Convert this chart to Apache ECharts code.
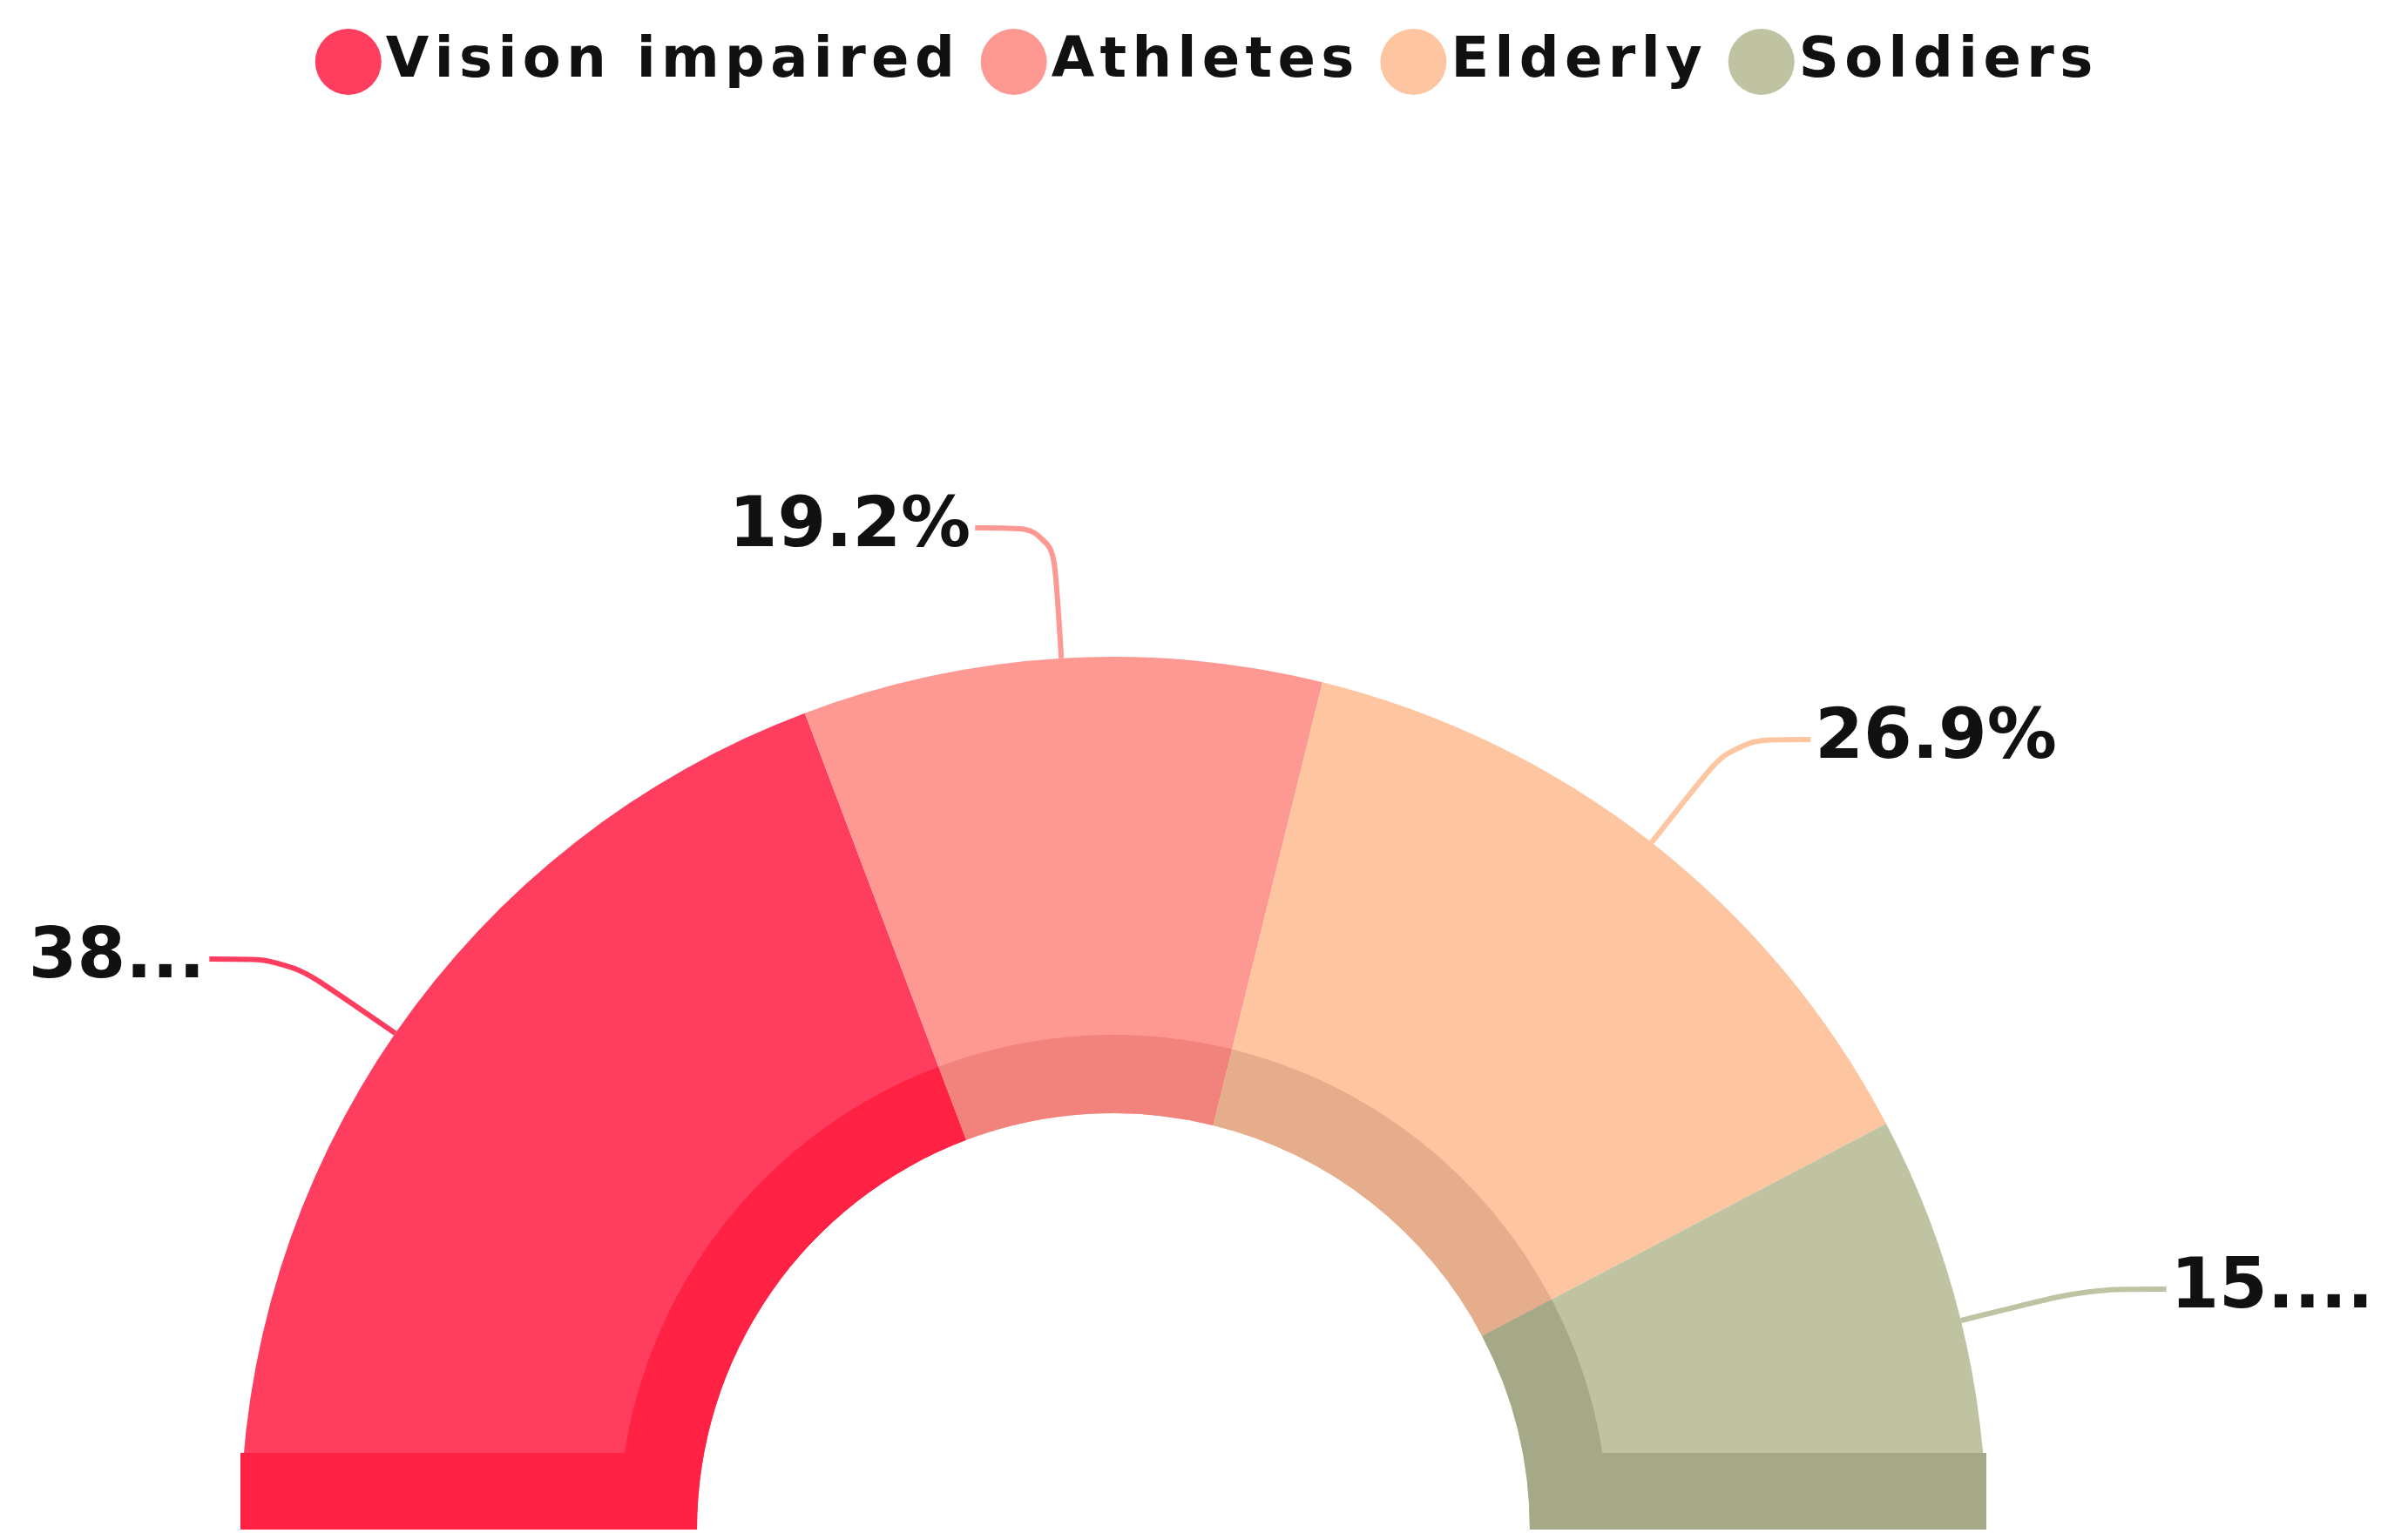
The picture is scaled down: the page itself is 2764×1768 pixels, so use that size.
<!DOCTYPE html>
<html><head><meta charset="utf-8">
<script src="https://cdn.jsdelivr.net/npm/echarts@6/dist/echarts.min.js"></script>
<style>html,body{margin:0;background:#fff}#c{width:2764px;height:1768px}</style>
</head><body><div id="c"></div>
<script>
const categories = ['Vision impaired', 'Athletes', 'Elderly', 'Soldiers'];
const values = [38.5, 19.2, 26.9, 15.4];
const colors = ['#ff3d5f', '#fd9892', '#fdc5a0', '#bfc3a2'];
const innerColors = ['#ff2244', '#f2837c', '#e6ad8c', '#a5a987'];

const cx = 1278, cy = 1756, rOut = 1002, rIn = 478, rMid = 568;
const chart = echarts.init(document.getElementById('c'));
chart.setOption({
  animation: false,
  color: colors,
  legend: {
    top: 28, left: 'center', icon: 'circle', itemWidth: 76, itemHeight: 76, itemGap: 30,
    textStyle: { fontFamily: 'DejaVu Sans', fontWeight: 'bold', fontSize: 64, color: '#111',
      rich: {} },
    formatter: n => n.split('').join('\u200A'),
    data: categories
  },
  series: [{
    type: 'pie', center: [cx, cy], radius: [rIn, rOut], startAngle: 180, endAngle: 0,
    data: categories.map((n, i) => ({ name: n, value: values[i] })),
    label: {
      formatter: '{c}%', fontFamily: 'DejaVu Sans', fontWeight: 'bold', fontSize: 80, color: '#111'
    },
    labelLine: { length: 150, length2: 90, smooth: 0.3, lineStyle: { width: 6 } },
    emphasis: { disabled: true }
  }, {
    type: 'pie', center: [cx, cy], radius: [rIn, rMid], startAngle: 180, endAngle: 0, silent: true,
    data: categories.map((n, i) => ({ name: n + ' ', value: values[i], itemStyle: { color: innerColors[i] } })),
    label: { show: false }, labelLine: { show: false }
  }],
  graphic: [
    { type: 'rect', shape: { x: cx - rOut, y: cy - 88, width: rOut - rIn, height: 88 }, style: { fill: '#ff2244' }, z: 10 },
    { type: 'rect', shape: { x: cx + rIn, y: cy - 88, width: rOut - rIn, height: 88 }, style: { fill: '#a5a987' }, z: 10 }
  ]
});
</script></body></html>
